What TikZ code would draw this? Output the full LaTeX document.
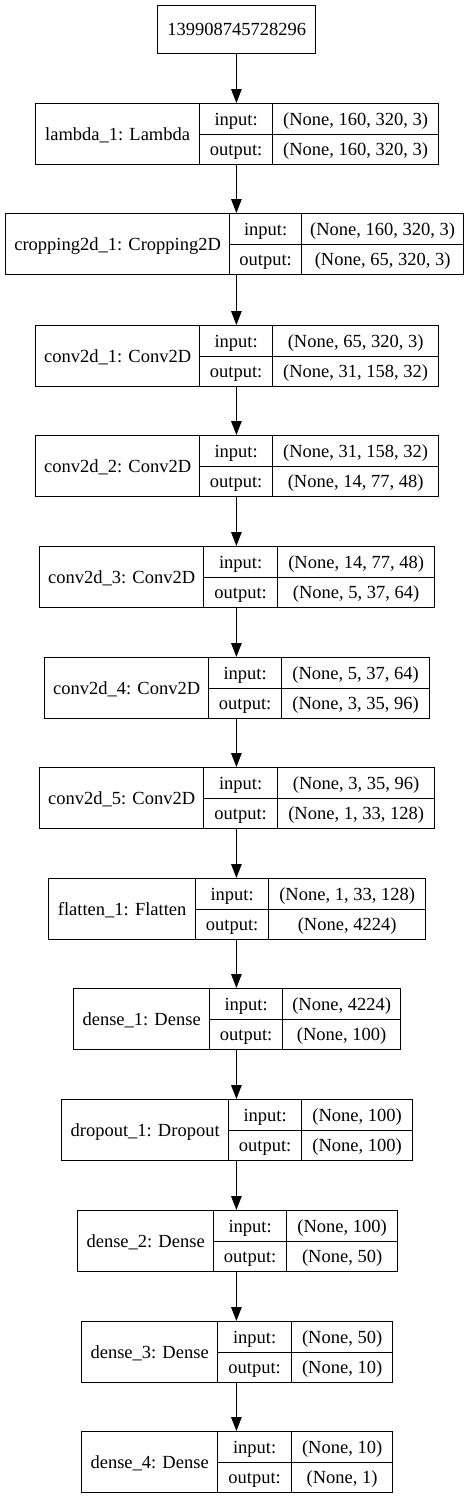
\documentclass[tikz,border=0pt]{standalone}
\usepackage{fontspec}
\setmainfont{Liberation Serif}
\usetikzlibrary{arrows.meta}
\tikzset{
  cell/.style={draw, line width=1.3pt, inner sep=0pt, anchor=north west,
    text height=12.2pt, text depth=0pt, font=\fontsize{18.5}{22}\selectfont},
  arr/.style={-{Triangle[length=14pt,width=10.5pt]}, line width=1.3pt},
}
% #1 name, #2 top y, #3 left, #4 divider 1, #5 divider 2, #6 right, #7 label, #8 input, #9 output
\newcommand\kerasLayer[9]{%
  \node[cell, minimum width=#4pt-#3pt, minimum height=61pt] (#1) at (#3,#2) {#7};
  \node[cell, minimum width=#5pt-#4pt, minimum height=30.5pt] (#1-il) at (#4,#2) {input:};
  \node[cell, minimum width=#6pt-#5pt, minimum height=30.5pt] (#1-iv) at (#5,#2) {#8};
  \node[cell, minimum width=#5pt-#4pt, minimum height=30.5pt] (#1-ol) at (#4,{#2+30.5}) {output:};
  \node[cell, minimum width=#6pt-#5pt, minimum height=30.5pt] (#1-ov) at (#5,{#2+30.5}) {#9};
}
\begin{document}
\begin{tikzpicture}[x=1pt,y=-1pt]
\useasboundingbox (0,0) rectangle (473,1499);
\node[cell, minimum width=158pt, minimum height=48pt] (top) at (157,5) {139908745728296};
\kerasLayer{lambda}{103}{35}{199}{272}{438}{lambda\_1: Lambda}{(None, 160, 320, 3)}{(None, 160, 320, 3)}
\kerasLayer{crop}{213}{5}{229}{301}{463}{cropping2d\_1: Cropping2D}{(None, 160, 320, 3)}{(None, 65, 320, 3)}
\kerasLayer{conva}{325}{35}{199}{272}{438}{conv2d\_1: Conv2D}{(None, 65, 320, 3)}{(None, 31, 158, 32)}
\kerasLayer{convb}{435}{35}{199}{272}{438}{conv2d\_2: Conv2D}{(None, 31, 158, 32)}{(None, 14, 77, 48)}
\kerasLayer{convc}{546}{39}{203}{277}{434}{conv2d\_3: Conv2D}{(None, 14, 77, 48)}{(None, 5, 37, 64)}
\kerasLayer{convd}{657}{44}{208}{281}{429}{conv2d\_4: Conv2D}{(None, 5, 37, 64)}{(None, 3, 35, 96)}
\kerasLayer{conve}{767}{39}{203}{277}{434}{conv2d\_5: Conv2D}{(None, 3, 35, 96)}{(None, 1, 33, 128)}
\kerasLayer{flat}{878}{48}{195}{268}{425}{flatten\_1: Flatten}{(None, 1, 33, 128)}{(None, 4224)}
\kerasLayer{densea}{988}{73}{209}{282}{400}{dense\_1: Dense}{(None, 4224)}{(None, 100)}
\kerasLayer{drop}{1099}{61}{228}{301}{412}{dropout\_1: Dropout}{(None, 100)}{(None, 100)}
\kerasLayer{denseb}{1210}{77}{213}{286}{397}{dense\_2: Dense}{(None, 100)}{(None, 50)}
\kerasLayer{densec}{1321}{81}{217}{291}{392}{dense\_3: Dense}{(None, 50)}{(None, 10)}
\kerasLayer{densed}{1431}{81}{217}{291}{392}{dense\_4: Dense}{(None, 10)}{(None, 1)}
\coordinate (ax) at (236.4,0);
\draw[arr] (ax |- top.south) -- (ax |- lambda.north);
\draw[arr] (ax |- lambda.south) -- (ax |- crop.north);
\draw[arr] (ax |- crop.south) -- (ax |- conva.north);
\draw[arr] (ax |- conva.south) -- (ax |- convb.north);
\draw[arr] (ax |- convb.south) -- (ax |- convc.north);
\draw[arr] (ax |- convc.south) -- (ax |- convd.north);
\draw[arr] (ax |- convd.south) -- (ax |- conve.north);
\draw[arr] (ax |- conve.south) -- (ax |- flat.north);
\draw[arr] (ax |- flat.south) -- (ax |- densea.north);
\draw[arr] (ax |- densea.south) -- (ax |- drop.north);
\draw[arr] (ax |- drop.south) -- (ax |- denseb.north);
\draw[arr] (ax |- denseb.south) -- (ax |- densec.north);
\draw[arr] (ax |- densec.south) -- (ax |- densed.north);
\end{tikzpicture}
\end{document}
